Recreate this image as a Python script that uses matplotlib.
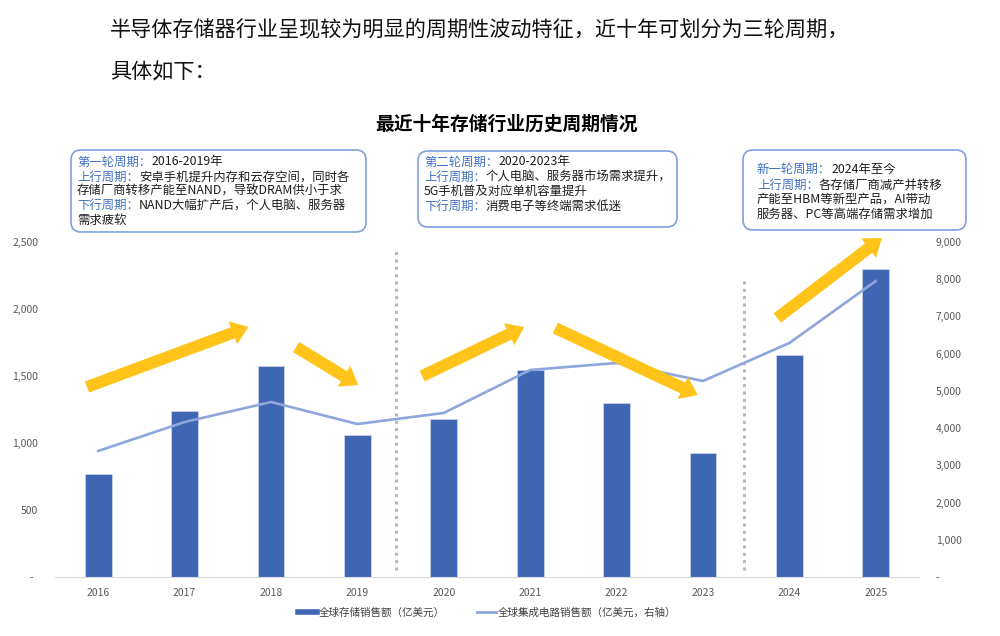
import matplotlib.pyplot as plt
from matplotlib.lines import Line2D
from matplotlib.patches import FancyBboxPatch
from matplotlib.ticker import FuncFormatter

plt.rcParams['font.family'] = ['Noto Sans CJK SC', 'DejaVu Sans']

years = ['2016', '2017', '2018', '2019', '2020', '2021', '2022', '2023', '2024', '2025']
memory_sales = [769, 1239, 1575, 1060, 1179, 1545, 1299, 925, 1657, 2299]
ic_sales = [3386, 4164, 4701, 4110, 4407, 5562, 5750, 5266, 6287, 7952]

bar_label = '全球存储销售额（亿美元）'
line_label = '全球集成电路销售额（亿美元，右轴）'
title = '最近十年存储行业历史周期情况'
intro1 = '半导体存储器行业呈现较为明显的周期性波动特征，近十年可划分为三轮周期，'
intro2 = '具体如下：'

boxes = [
    [('第一轮周期：', '2016-2019年'),
     ('上行周期：', '安卓手机提升内存和云存空间，同时各'),
     ('', '存储厂商转移产能至NAND，导致DRAM供小于求'),
     ('下行周期：', 'NAND大幅扩产后，个人电脑、服务器'),
     ('', '需求疲软')],
    [('第二轮周期：', '2020-2023年'),
     ('上行周期：', '个人电脑、服务器市场需求提升，'),
     ('', '5G手机普及对应单机容量提升'),
     ('下行周期：', '消费电子等终端需求低迷')],
    [('新一轮周期：', '2024年至今'),
     ('上行周期：', '各存储厂商减产并转移'),
     ('', '产能至HBM等新型产品，AI带动'),
     ('', '服务器、PC等高端存储需求增加')],
]

BAR = '#3F66B3'
LINE = '#8EA6DC'
GOLD = '#FFC31A'
GRAY = '#595959'
BOXBLUE = '#4472C4'

fig = plt.figure(figsize=(10, 6.36), dpi=100)
H = 6.36

ax = fig.add_axes([0.055, 1 - 577 / 636, 0.864, (577 - 242) / 636])
x = list(range(len(years)))
ax.bar(x, memory_sales, width=0.31, color=BAR, edgecolor='#c9d3ec', linewidth=0.6, zorder=2)
ax.set_xlim(-0.5, 9.5)
ax.set_ylim(0, 2500)
ax.set_yticks(range(0, 2501, 500))
ax.set_xticks(x)
ax.set_xticklabels(years)
ax.yaxis.set_major_formatter(FuncFormatter(lambda v, p: '-  ' if v == 0 else f'{v:,.0f}'))
ax.tick_params(length=0, labelsize=7.5, labelcolor=GRAY)
ax.tick_params(axis='y', pad=12)
ax.tick_params(axis='x', pad=8)
for s in ['top', 'right', 'left']:
    ax.spines[s].set_visible(False)
ax.spines['bottom'].set_color('#D9D9D9')

ax2 = ax.twinx()
ax2.plot(x, ic_sales, color=LINE, lw=1.9, zorder=3)
ax2.set_ylim(0, 9000)
ax2.set_yticks(range(0, 9001, 1000))
ax2.yaxis.set_major_formatter(FuncFormatter(lambda v, p: '-' if v == 0 else f'{v:,.0f}'))
ax2.tick_params(length=0, labelsize=7.5, labelcolor=GRAY, pad=12)
for s in ['top', 'right', 'left', 'bottom']:
    ax2.spines[s].set_visible(False)

# dotted cycle separators
for xs, ytop in [(3.45, 2440), (7.48, 2230)]:
    ax.plot([xs, xs], [52, ytop], ls=(0, (1, 1.4)), color='#B8B8B8', lw=2.2,
            solid_capstyle='butt', dash_capstyle='butt', zorder=1)

# trend arrows (category x, left-axis y)
arrows = [((-0.13, 1418), (1.74, 1866)),
          ((2.29, 1716), (3.01, 1433)),
          ((3.75, 1500), (4.93, 1866)),
          ((5.29, 1858), (6.94, 1358)),
          ((7.86, 1933), (9.07, 2530))]
for tail, tip in arrows:
    ax2.annotate('', xy=tip, xytext=tail, xycoords=ax.transData, textcoords=ax.transData,
                 annotation_clip=False,
                 arrowprops=dict(arrowstyle='simple,head_length=1.2,head_width=1.75,tail_width=0.85',
                                 mutation_scale=10, color=GOLD, shrinkA=0, shrinkB=0, lw=0))

# header texts
fig.text(0.110, 1 - 30 / 636, intro1, fontsize=15.2, color='#111111', va='center')
fig.text(0.110, 1 - 72 / 636, intro2, fontsize=15.2, color='#111111', va='center')
fig.text(0.506, 1 - 124 / 636, title, fontsize=13.5, fontweight='bold', ha='center', va='center')

# annotation boxes (pixel geometry -> inches)
box_geom = [
    (71, 150, 366, 232, 77, [162, 177, 191, 205, 220]),
    (418, 151, 677, 227, 424, [162, 177, 191, 206]),
    (743, 150, 966, 230, 757, [169, 185, 199, 214]),
]
fs = 8.9
for (x0, y0, x1, y1, tx, ys), lines in zip(box_geom, boxes):
    patch = FancyBboxPatch((x0 / 100 + 0.1, H - y1 / 100 + 0.1), (x1 - x0) / 100 - 0.2, (y1 - y0) / 100 - 0.2,
                           boxstyle='round,pad=0.1', transform=fig.dpi_scale_trans,
                           facecolor='white', edgecolor='#7F9FDE', lw=1.2)
    fig.add_artist(patch)
    for (lab, body), yy in zip(lines, ys):
        xi = tx / 100
        yi = H - yy / 100
        if lab:
            fig.text(xi, yi, lab, fontsize=fs, color=BOXBLUE, va='center', transform=fig.dpi_scale_trans)
            xi += len(lab) * fs / 72
        fig.text(xi, yi, body, fontsize=fs, color='#1f1f1f', va='center', transform=fig.dpi_scale_trans)

handles = [Line2D([], [], color=BAR, lw=4), Line2D([], [], color=LINE, lw=2)]
fig.legend(handles, [bar_label, line_label], loc='center', bbox_to_anchor=(0.487, 1 - 613 / 636),
           ncol=2, frameon=False, fontsize=7.6, handlelength=1.8, handletextpad=0.2, columnspacing=3.0,
           labelcolor='#404040')

fig.savefig('out.png', dpi=100)
